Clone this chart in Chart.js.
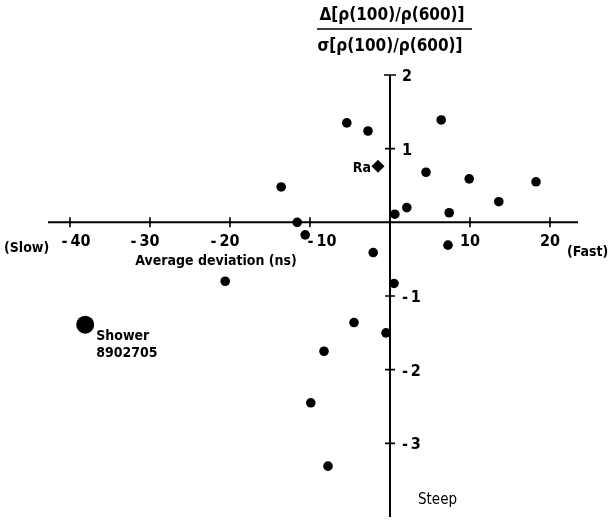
<!DOCTYPE html>
<html>
<head>
<meta charset="utf-8">
<script src="https://cdn.jsdelivr.net/npm/chart.js@4"></script>
<style>
  body { margin: 0; background: #fff; }
</style>
</head>
<body>
<canvas id="myChart" width="612" height="526"></canvas>
<script>
// datos: desviacion media (ns) y Delta/sigma
var devX = [-5.4, -2.75, 6.4, 4.5, 9.9, 18.25, -13.6, 13.6, 2.1, 0.6, 7.4, -11.6, -10.6, -2.1, 7.25, -20.6, 0.5, -4.5, -0.5, -8.25, -9.9, -7.75];
var ratioY = [1.35, 1.24, 1.39, 0.68, 0.59, 0.55, 0.48, 0.28, 0.2, 0.11, 0.13, 0, -0.17, -0.41, -0.31, -0.8, -0.83, -1.36, -1.5, -1.75, -2.45, -3.31];
var raPoint = [-1.5, 0.76];
var showerPoint = [-38.1, -1.39];
var xTicks = [-40, -30, -20, -10, 10, 20];
var yTicks = [2, 1, -1, -2, -3];

function toPoints(xs, ys) {
  return xs.map(function (x, i) { return { x: x, y: ys[i] }; });
}

var FONT = '"DejaVu Sans Condensed", "DejaVu Sans", sans-serif';

// ejes cruzados en el origen y textos
var axesPlugin = {
  id: 'crossAxes',
  afterDatasetsDraw: function (chart) {
    var ctx = chart.ctx;
    var sx = chart.scales.x, sy = chart.scales.y;
    var x0 = sx.getPixelForValue(0), y0 = sy.getPixelForValue(0);
    var a = chart.chartArea;
    ctx.save();
    ctx.strokeStyle = '#000';
    ctx.lineWidth = 2;
    ctx.beginPath();
    ctx.moveTo(a.left, y0); ctx.lineTo(a.right, y0);
    ctx.moveTo(x0, sy.getPixelForValue(2)); ctx.lineTo(x0, a.bottom);
    ctx.stroke();

    ctx.lineWidth = 1.6;
    ctx.beginPath();
    xTicks.forEach(function (v) {
      var px = sx.getPixelForValue(v);
      ctx.moveTo(px, y0 - 5); ctx.lineTo(px, y0 + 5);
    });
    yTicks.forEach(function (v) {
      var py = sy.getPixelForValue(v);
      if (v === 2) { ctx.moveTo(x0 - 6, py); ctx.lineTo(x0 + 6, py); }
      else { ctx.moveTo(x0 - 5, py); ctx.lineTo(x0 + 5, py); }
    });
    ctx.stroke();

    ctx.fillStyle = '#000';
    ctx.textBaseline = 'middle';
    ctx.textAlign = 'center';
    ctx.font = 'bold 16px ' + FONT;
    xTicks.forEach(function (v) {
      var px = sx.getPixelForValue(v);
      var dx = v < 0 ? -5 : 0;
      if (v === -10) dx = 12;
      if (v === -40) dx = 6;
      ctx.fillText(String(v).replace('-', '-\u2009'), px + dx, y0 + 20);
    });
    ctx.textAlign = 'left';
    yTicks.forEach(function (v) {
      var py = sy.getPixelForValue(v);
      var label = v < 0 ? '-\u2009' + Math.abs(v) : String(v);
      ctx.fillText(label, x0 + 12, py + 2);
    });

    ctx.font = 'bold 14px ' + FONT;
    ctx.textAlign = 'left';
    ctx.fillText('(Slow)', 4, y0 + 26);
    ctx.fillText('(Fast)', 567, y0 + 30);
    ctx.textAlign = 'center';
    ctx.fillText('Average deviation (ns)', 216, y0 + 39);

    // titulo del eje y
    ctx.font = 'bold 17px ' + FONT;
    ctx.fillText('\u0394[\u03c1(100)/\u03c1(600)]', 392, 16);
    ctx.fillText('\u03c3[\u03c1(100)/\u03c1(600)]', 390, 47);
    ctx.lineWidth = 1.5;
    ctx.beginPath();
    ctx.moveTo(317, 29); ctx.lineTo(472, 29);
    ctx.stroke();

    // etiquetas
    ctx.font = 'bold 14px ' + FONT;
    ctx.textAlign = 'right';
    ctx.fillText('Ra', sx.getPixelForValue(raPoint[0]) - 7, sy.getPixelForValue(raPoint[1]) + 2);
    ctx.textAlign = 'left';
    var shx = sx.getPixelForValue(showerPoint[0]), shy = sy.getPixelForValue(showerPoint[1]);
    ctx.fillText('Shower', shx + 11, shy + 12);
    ctx.fillText('8902705', shx + 11, shy + 29);
    ctx.font = '15px ' + FONT;
    ctx.fillText('Steep', 418, 500);
    ctx.restore();
  }
};

var config = {
  type: 'scatter',
  data: {
    datasets: [{
      data: toPoints(devX, ratioY),
      backgroundColor: '#000',
      borderColor: '#000',
      pointRadius: 4.8,
      borderWidth: 0
    }, {
      data: [{ x: raPoint[0], y: raPoint[1] }],
      pointStyle: 'rectRot',
      backgroundColor: '#000',
      borderColor: '#000',
      pointRadius: 6.5,
      borderWidth: 0
    }, {
      data: [{ x: showerPoint[0], y: showerPoint[1] }],
      backgroundColor: '#000',
      borderColor: '#000',
      pointRadius: 9,
      borderWidth: 0
    }]
  },
  options: {
    responsive: false,
    animation: false,
    layout: { padding: { left: 48, right: 34, top: 75, bottom: 4 } },
    plugins: { legend: { display: false }, tooltip: { enabled: false } },
    scales: {
      x: { type: 'linear', min: -42.75, max: 23.5, display: false },
      y: { type: 'linear', min: -4, max: 2, display: false }
    }
  },
  plugins: [axesPlugin]
};

var myChart = new Chart(document.getElementById('myChart'), config);
</script>
</body>
</html>
